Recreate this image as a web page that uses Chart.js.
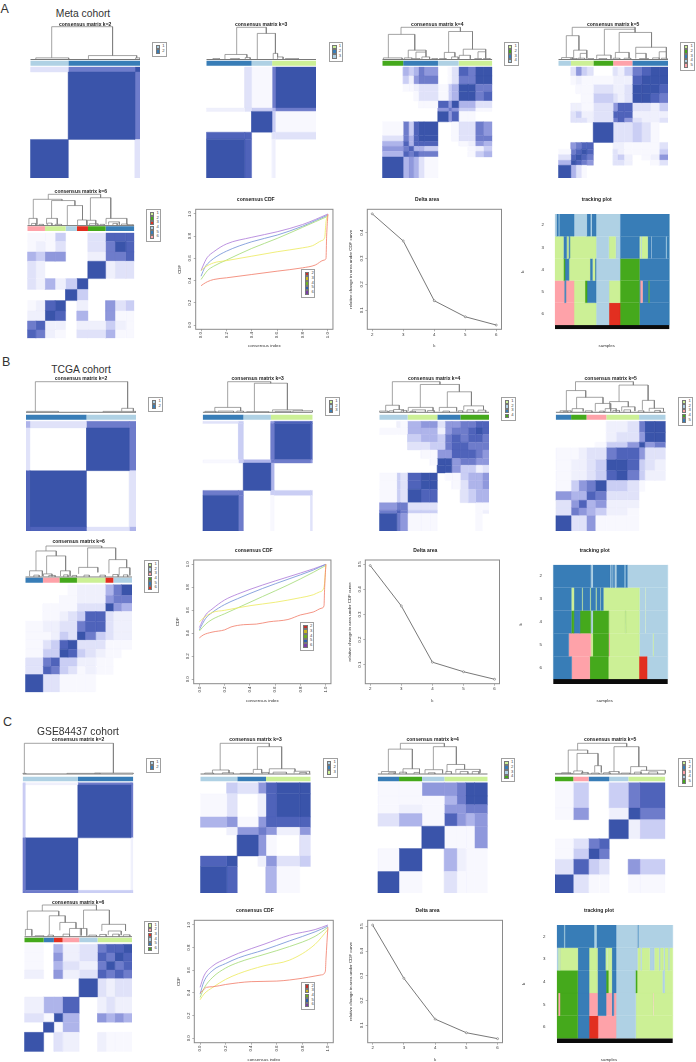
<!DOCTYPE html>
<html><head><meta charset="utf-8">
<style>
html,body{margin:0;padding:0;background:#fff;width:696px;height:1062px;overflow:hidden;font-family:"Liberation Sans",Arial,sans-serif}
canvas{position:absolute;filter:blur(.3px)}
.t{position:absolute;color:#333;white-space:nowrap;line-height:1}
.lg{position:absolute;box-sizing:border-box;border:1px solid #a0a0a0;background:#fff}
.lg i{position:absolute;width:2.4px;height:2.4px;box-sizing:content-box;border:.4px solid #777}
.lg b{position:absolute;font:normal 4.2px/1 "Liberation Sans",Arial,sans-serif;color:#444}
</style></head><body>
<script src="https://cdn.jsdelivr.net/npm/chart.js@4"></script>
<script>
// ---------- consensus matrices: block edges (% of samples), triangular block values (0-9), cluster bars, dendrogram merges
const edgesA2=[0,34.7,95.5,100];            const gridA2=["9","09","379"];
const edgesA3=[0,35,41.3,60,63,100];        const gridA3=["9","88","009","2345","03179"];
const edgesA4=[0,19,24,28.5,33,38,50.6,60,63,69.4,78,84.5,92,100];
const gridA4=["9","58","678","5858","37589","174899","0000009","00000067","000011869","0001331459","01123314599","042677013779","0545760138799"];
const edgesA5=[0,11.5,16,21,26,32,50,54,60,67.5,76,84,92,100];
const gridA5=["9","59","389","1789","06788","000009","0333237","03422388","022113688","0001143239","00111322399","012111222899","0364303247899"];
const edgesA6=[0,8,16.5,26,35.8,46.4,56.7,73.2,82,92,100];
const gridA6=["8","78","229","1289","00009","325249","3200009","54660027","121300379","1114003888"];
const edgesB2=[0,3.6,55,94,100];            const gridB2=["8","89","309","5377"];
const edgesB3=[0,32.5,37,62,65,98,100];     const gridB3=["9","77","009","1457","04079","340688"];
const edgesB4=[0,16,19,25.8,38,46,52.9,60,66,73.9,81,88,94,100];
const gridB4=["9","78","677","1439","14389","143899","0000009","00000199","000011668","0003344788","00045547878","111555267789","0215663667788"];
const edgesB5=[0,14,21,28,36,46,55,65,75.8,81,90,100];
const gridB5=["9","37","368","6558","146 79".replace(' ',''),"122348","1223499","11233788","000014469","0000023369","00000223799"];
const edgesB6=[0,16.5,24,32,40,48.4,56,66,75,82.5,90,100];
const gridB6=["9","38","378","1449","13489","112439","1223378","01123488","011113339","0001122267","00001222579"];
const edgesC2=[0,2.4,50,98,100];            const gridC2=["7","79","409","4277"];
const edgesC3=[0,24,33.5,52.5,59.5,69,90,100]; const gridC3=["9","89","009","0267","56168","130289","0436899"];
const edgesC4=[0,19.4,40.3,60.6,72,80,88,100]; const gridC4=["9","19","009","3518","12166","111579","1166799"];
const edgesC5=[0,16.6,30.5,40,49.2,66.5,77,100]; const gridC5=["9","38","149","1378","00009","160029","1400478"];
const edgesC6=[0,18,27.5,35.6,51,68,76,84,92,100];
const gridC6=["9","09","319","2558","00009","206238","1053279","10623879","105237889"];

const barA2=[['l',34.7],['b',100]];
const barA3=[['b',41.3],['l',60],['g',100]];
const barA4=[['G',19],['b',50.6],['l',69.4],['g',100]];
const barA5=[['l',11.5],['g',32],['G',50],['p',67.5],['b',100]];
const barA6=[['p',16.5],['g',35.8],['l',46.4],['R',56.7],['G',73.2],['b',100]];
const barB2=[['b',55],['l',100]];
const barB3=[['b',37],['l',62],['g',100]];
const barB4=[['l',25.8],['g',52.9],['b',73.9],['G',100]];
const barB5=[['b',14],['G',28],['p',46],['g',75.8],['l',100]];
const barB6=[['b',16.5],['p',32],['G',48.4],['g',75],['R',82.5],['l',100]];
const barC2=[['l',50],['b',100]];
const barC3=[['l',33.5],['b',59.5],['g',100]];
const barC4=[['b',19.4],['G',40.3],['l',60.6],['g',100]];
const barC5=[['G',16.6],['p',30.5],['b',49.2],['l',66.5],['g',100]];
const barC6=[['G',18],['b',27.5],['R',35.6],['p',51],['l',68],['g',100]];

const dendA2=[[19.5,75,100,5,12],[5,35,5,1,1],[53,97,12,2,5],[96,100,5,1,1]];
const dendA3=[[27.7,54.7,100,15.6,81],[17,37,15.6,1,6],[35.5,40,6,1,1],[46.5,63,81,1,19],[61,65,19,1,8],[65,70,8,1,1],[6,12,3,0,0],[22,30,3,0,0],[72,84,3,0,0]];
const dendA4=[[17,71,100,78,87],[5.5,29.5,78,5,29],[1,18,5,1,1],[23.6,39.7,29,5,23],[30.6,39.7,23,3,8],[60.3,82,87,22,32],[56.4,66,22,1,8],[73.6,94,32,13,24],[87,94,24,3,3],[70,80,13,2,2],
 [20,27,5,0,0],[28,34,3,0,0],[36,43,8,0,0],[45,50,3,0,0],[52,58,3,0,0],[63,69,8,0,0],[84,90,3,0,0],[92,98,3,0,0]];
const dendA5=[[12.7,70,100,74,94],[7.3,18.8,74,6,29],[3,13,6,1,1],[14,26,29,3,19],[20,26,19,3,3],[42,70,94,13.5,84],[35,48,13.5,2,2],[55.5,85,84,22,38],[52,64.5,22,4,4],[70.6,98.5,38,19,24],[70.6,80,19,3,3],[92,98.5,24,4,4],
 [11,17,3,0,0],[18,24,4,0,0],[27,32,3,0,0],[37,44,3,0,0],[50,56,4,0,0],[60,66,4,0,0],[74,82,3,0,0],[86,92,5,0,0],[94,99,4,0,0]];
const dendA6=[[19.6,68.5,100,84,89],[5.6,32.4,84,23,80],[1.5,9,23,3,3],[22.7,44.5,80,23,64],[18,28,23,4,4],[37.4,51.6,64,1,18],[47,55.5,18,1,2],[59,78,89,17,23],[56,64,17,1,2],[73.6,93,23,4,4],[76,86,12,3,3],
 [4,8,7,0,0],[11,15,4,0,0],[19,23,8,0,0],[26,32,4,0,0],[58,66,6,0,0],[68,72,4,0,0],[80,84,7,0,0],[88,94,5,0,0],[95,99,3,0,0]];
const dendB2=[[8.5,92.4,100,3,13],[0.6,29.4,3,1,1],[87,97.6,13,3,3],[70,100,3,1,1]];
const dendB3=[[22.7,61.8,100,16,95],[11,34.5,16,3,4],[47,77,95,2,8],[63.5,90.6,8,2,5],[82,100,5,1,1],[31,37,4,1,1],[2,12,3,0,0],[14,28,4,0,0],[40,60,2,0,0],[66,80,3,0,0]];
const dendB4=[[11.9,55.3,100,23,91],[5.8,18.2,23,4,9],[37.4,73,91,16,67],[26.4,49,16,4,5],[62,84,67,16,21],[54.7,70.5,16,3,3],[77,95,21,7,8],[13,22,9,2,2],[0,8,4,1,1],[30,42,8,2,2],
 [9,13,5,0,0],[20,25,6,0,0],[28,33,3,0,0],[44,50,6,0,0],[58,64,4,0,0],[72,76,5,0,0],[80,86,8,0,0],[90,97,7,0,0]];
const dendB5=[[18,70.6,100,71,89],[9.7,27.3,71,5,49],[4,14,5,1,1],[19,43,49,12,29],[15,25,12,2,3],[36,50,29,3,3],[57.6,84,89,35,39],[49,66,35,12,18],[45,55,12,2,2],[60,72,18,4,4],[78.8,89.7,39,8,13],[85,98,13,3,3],
 [7,11,3,0,0],[27,33,5,0,0],[40,44,4,0,0],[52,58,6,0,0],[62,68,8,0,0],[75,80,5,0,0],[90,95,6,0,0]];
const dendB6=[[19.4,71.6,100,84,94],[10,29,84,20,68],[4,16,20,3,3],[20,37.8,68,10,20],[58.4,84.7,94,31,56],[50,68,31,10,15],[78.4,95,56,12,30],[88,98,30,5,5],[17,25,10,2,2],[33,42,20,3,3],
 [8,13,6,0,0],[22,28,5,0,0],[36,40,7,0,0],[44,48,5,0,0],[55,60,6,0,0],[70,75,6,0,0],[82,87,8,0,0],[92,96,7,0,0]];
const dendC2=[[1.5,82,100,2,3],[0,3,2,1,1],[65,100,3,1,1],[40,70,2,0,0]];
const dendC3=[[18,62.5,100,13,89],[11,26,13,2,3],[51.7,73.7,89,15,17],[48,55.6,15,3,3],[62.5,85.8,17,3,9],[85,99,9,2,2],[4,12,3,0,0],[20,30,4,0,0],[36,47,2,0,0],[56,62,5,0,0],[66,78,6,0,0],[90,96,5,0,0]];
const dendC4=[[20.6,60.6,100,81,89],[9.7,31.5,81,8,17],[3.5,16,8,1,1],[23,38,17,3,3],[50.6,71.5,89,14,31],[43,59,14,2,2],[63,79,31,6,15],[71,93,15,4,4],[10,15,4,0,0],[20,26,6,0,0],[33,38,5,0,0],[46,52,4,0,0],[62,67,8,0,0],[75,82,8,0,0],[86,92,8,0,0]];
const dendC5=[[20.5,65,100,78,89],[12,29.6,78,1,67],[0,16,2,1,1],[20,39,67,10,27],[17,25,10,2,2],[36,42,27,5,5],[53.5,76,89,8,24],[49,58,8,2,2],[68.6,83,24,3,12],[78,100,12,2,2],[6,14,4,0,0],[24,30,5,0,0],[33,40,3,0,0],[44,50,4,0,0],[60,68,3,0,0],[72,78,6,0,0],[85,93,7,0,0]];
const dendC6=[[16.7,67,100,81,84],[2.8,32,81,23,66],[1,7,23,3,3],[23.2,38,66,6,45],[33,48,45,20,26],[42,53,26,4,4],[55,79,84,26,39],[52,58,26,3,3],[72,94,39,18,18],[78,90,18,5,5],[10,18,3,0,0],[22,27,5,0,0],[36,42,8,0,0],[60,67,5,0,0],[70,76,7,0,0],[82,88,8,0,0],[92,98,6,0,0]];

// ---------- CDF curves: consensus index and CDF per k
const cdfXA2=[0,.02,.05,.1,.2,.4,.6,.8,.9,.97,.985,.99,1];
const cdfA2=[.354,.37,.39,.41,.425,.455,.485,.515,.54,.585,.6,.8,1];
const cdfXA3=[0,.03,.1,.2,.4,.6,.8,.88,.95,.975,.985,1];
const cdfA3=[.49,.52,.56,.58,.62,.66,.695,.715,.76,.79,.93,.99];
const cdfXA=[0,.03,.05,.1,.2,.4,.6,.8,.9,1];
const cdfA4=[.41,.46,.49,.53,.585,.69,.78,.88,.93,.98];
const cdfA5=[.44,.52,.55,.6,.665,.75,.81,.89,.94,.99];
const cdfA6=[.49,.57,.61,.66,.73,.79,.84,.905,.95,1];

const cdfXB2=[0,.03,.1,.2,.25,.35,.45,.55,.7,.8,.9,.97,.985,.99,1];
const cdfB2=[.36,.385,.41,.43,.455,.475,.48,.5,.52,.56,.585,.62,.64,.8,1];
const cdfXB3=[0,.03,.1,.2,.4,.6,.8,.9,.95,.985,1];
const cdfB3=[.5,.53,.58,.6,.64,.67,.71,.735,.76,.8,1];
const cdfXB=[0,.05,.1,.2,.3,.5,.7,.9,1];
const cdfB4=[.42,.48,.52,.57,.62,.72,.82,.93,.99];
const cdfB5=[.43,.53,.58,.65,.7,.79,.87,.95,1];
const cdfB6=[.45,.56,.61,.69,.74,.82,.89,.96,1];

const cdfXC2=[0,.02,.05,.1,.2,.4,.6,.8,.9,.95,.98,.985,1];
const cdfC2=[.4,.42,.45,.455,.475,.5,.505,.53,.55,.56,.59,.7,.98];
const cdfXC=[0,.03,.1,.2,.3,.5,.7,.9,1];
const cdfC3=[.34,.39,.45,.52,.57,.64,.69,.83,.96];
const cdfC4=[.36,.44,.54,.62,.67,.74,.81,.9,.98];
const cdfC5=[.39,.5,.6,.66,.71,.78,.86,.94,.99];
const cdfC6=[.45,.55,.64,.7,.75,.83,.91,.96,1];

// ---------- delta area
const deltaK=[2,3,4,5,6];
const deltaA=[.473,.368,.137,.075,.043];
const deltaB=[.495,.334,.11,.072,.042];
const deltaC=[.505,.29,.125,.07,.046];

// ---------- tracking plot runs: [cluster colour, end % of samples], one list per k
const trackA2=[['l',1.2],['b',3],['l',3.6],['b',16.6],['l',27.7],['b',31],['l',32],['b',35.9],['l',56.9],['b',100]];
const trackA3=[['g',7.3],['b',10.2],['g',11.7],['b',13],['g',35.9],['l',47],['g',53],['l',56.9],['b',73.8],['g',75],['l',75.6],['g',81],['b',84],['l',84.5],['b',97],['l',97.6],['b',100]];
const trackA4=[['g',7.3],['G',8.7],['b',12.2],['g',30.6],['b',32.7],['g',35],['b',35.9],['l',56.9],['G',73.8],['b',100]];
const trackA5=[['p',8],['b',9.5],['p',16.6],['g',26.2],['G',28],['b',35.9],['l',47.2],['g',56.9],['G',73.8],['b',74.5],['p',76.5],['b',81.5],['G',82.5],['b',100]];
const trackA6=[['p',16.6],['g',35.9],['l',47.2],['R',56.9],['G',73.8],['b',100]];
const trackB2=[['b',32.7],['l',34.4],['b',49.6],['l',50.5],['b',51.5],['l',52.2],['b',53.5],['l',55],['b',62],['l',62.8],['b',64.7],['l',100]];
const trackB3=[['b',15.7],['g',18],['b',25],['g',25.6],['b',32],['g',32.6],['b',37],['g',37.6],['b',41],['g',41.6],['b',43.7],['g',75.2],['l',80.2],['g',80.8],['l',100]];
const trackB4=[['b',15.7],['G',18],['b',23.3],['G',32.7],['l',34.4],['G',48.4],['g',63],['G',63.5],['g',75.2],['l',80.2],['g',80.8],['l',100]];
const trackB5=[['b',13.4],['p',32.7],['g',34.4],['G',48.4],['p',49],['g',75.2],['l',87],['g',87.6],['l',100]];
const trackB6=[['b',16],['p',31.8],['G',48.1],['g',74.9],['R',81.9],['l',100]];
const trackC2=[['b',6],['l',6.8],['b',32],['l',34],['b',51],['l',69.5],['b',70.2],['l',100]];
const trackC3=[['l',1],['g',2],['l',2.6],['g',17.9],['b',27.7],['g',34.9],['b',41.8],['g',43.5],['l',44],['g',47.3],['b',51],['l',69.5],['g',72],['l',73],['g',80],['l',84],['g',88],['l',89],['g',92],['l',93],['g',96],['l',97],['g',100]];
const trackC4=[['G',17.9],['b',27.7],['g',34.9],['b',42.4],['G',44.4],['g',47.3],['b',51],['l',67.7],['G',69.2],['g',91],['l',93],['g',100]];
const trackC5=[['G',1],['p',2.5],['G',17.9],['b',27.7],['p',34.9],['b',42.4],['p',47.3],['b',49],['p',51],['l',68],['g',83],['p',83.6],['g',100]];
const trackC6=[['G',17.9],['b',27.7],['R',35.4],['p',51],['l',68],['g',100]];

// ---------- styles
const colors={l:'#AFD1E4',b:'#387DB7',g:'#CCF096',G:'#45A91C',p:'#FEA2A9',R:'#E22F20'};
const shades=[null,'#F8F8FE','#EFF0FC','#E0E2F9','#CACEF4','#AEB4EA','#8F98DC','#6E7CCB','#4F63BA','#3A54AA'];
const cdfColors=['#F2826F','#EDEB64','#A7DC7B','#7795D8','#B07FDA'];
const cdfKeys=['#C5312A','#C9B520','#6FAF20','#2C5FB0','#7A3FA8'];
const FONT='"Liberation Sans",Arial,sans-serif';

function rect(x0,x1,y0,y1,c,bw){return {showLine:true,data:[{x:x0,y:y0},{x:x1,y:y0},{x:x1,y:y1},{x:x0,y:y1},{x:x0,y:y0}],fill:'shape',backgroundColor:c,borderColor:c,borderWidth:bw||0,pointRadius:0,tension:0};}
function mount(box){
  const L=Math.floor(box.l),T=Math.floor(box.t),R=Math.ceil(box.r),B=Math.ceil(box.b);
  const c=document.createElement('canvas');c.style.left=L+'px';c.style.top=T+'px';c.width=R-L;c.height=B-T;c.style.width=(R-L)+'px';c.style.height=(B-T)+'px';
  document.body.appendChild(c);
  return {ctx:c.getContext('2d'),padding:{left:box.l-L,top:box.t-T,right:R-box.r,bottom:B-box.b}};
}
const base={responsive:false,animation:false,events:[]};
function titleOpt(text,pad){return {display:true,text,color:'#222',font:{family:FONT,size:5,weight:'bold',lineHeight:1},padding:{top:0,bottom:pad}};}

function legendBox(x,y,keys,labels,w){
  const d=document.createElement('div');d.className='lg';d.style.left=x+'px';d.style.top=y+'px';d.style.width=(w||14.5)+'px';d.style.height=(keys.length*4.67+5.3)+'px';
  keys.forEach((k,i)=>{
    const s=document.createElement('i');s.style.left='2.8px';s.style.top=(1.5+i*4.67)+'px';s.style.background=k;d.appendChild(s);
    const t=document.createElement('b');t.style.left='9.3px';t.style.top=(1.1+i*4.67)+'px';t.textContent=labels[i];d.appendChild(t);
  });
  document.body.appendChild(d);
}
function label(text,x,y,size,anchor){
  const d=document.createElement('div');d.className='t';d.textContent=text;d.style.left=x+'px';d.style.top=(y-size/2)+'px';d.style.fontSize=size+'px';
  if(anchor==='c')d.style.transform='translateX(-50%)';
  document.body.appendChild(d);
}

function heat(p){
  const [mx0,mx1]=p.mx,[my0,my1]=p.my,fs=5;
  const chartTop=Math.max(p.tc+fs/2,p.dy[0]-.5);
  const ppu=(my1-my0)/100, val=py=>100+(my0-py)/ppu;
  const ds=[];
  const e=p.edges;
  p.grid.forEach((row,i)=>{for(let j=0;j<=i;j++){
    const c=shades[+row[j]];if(!c)continue;
    ds.push(rect(e[j],e[j+1],e[i],e[i+1],c,.4));
    if(i!==j)ds.push(rect(e[i],e[i+1],e[j],e[j+1],c,.4));
  }});
  let s=0;p.bar.forEach(([k,end])=>{ds.push(rect(s,end,val(p.by[1]),val(p.by[0]),colors[k]));s=end;});
  const yb=val(p.dy[1]),yt=val(p.dy[0]),H=h=>yb+h/100*(yt-yb);
  const pts=[];
  p.dend.forEach(([a,b,h,hl,hr])=>{pts.push({x:a,y:H(hl)},{x:a,y:H(h)},{x:b,y:H(h)},{x:b,y:H(hr)},{x:null,y:null});});
  ds.push({showLine:true,data:pts,borderColor:'#7d7d7d',borderWidth:.7,pointRadius:0,spanGaps:false,clip:false});
  ds.push({showLine:true,data:[{x:0,y:H(0)},{x:100,y:H(0)}],borderColor:'#555',borderWidth:.8,pointRadius:0});
  const m=mount({l:mx0,r:mx1,t:p.tc-fs/2,b:my1});
  new Chart(m.ctx,{type:'scatter',data:{datasets:ds},options:{...base,layout:{padding:m.padding},
    plugins:{legend:{display:false},tooltip:{enabled:false},title:{...titleOpt(p.title,chartTop-(p.tc+fs/2))}},
    scales:{x:{type:'linear',display:false,min:0,max:100},y:{type:'linear',display:false,min:0,max:val(chartTop)}}}});
  legendBox(p.lg[0],p.lg[1],p.legend.map(k=>colors[k]),p.legend.map((_,i)=>String(i+1)));
}

function span(v0,p0,v1,p1,a,b){const k=(v1-v0)/(p1-p0);return [v0+(a-p0)*k,v0+(b-p0)*k];}
const boxPlugin={id:'box',afterDraw(ch){const a=ch.chartArea,c=ch.ctx;c.save();c.strokeStyle='#8a8a8a';c.lineWidth=1;c.strokeRect(a.left,a.top,a.right-a.left,a.bottom-a.top);c.restore();}};

function plotOpts(p,xT,yT,xTicks,yTicks,xrot,fmtX){
  const [xmin,xmax]=span(p.xv[0],p.xp[0],p.xv[1],p.xp[1],p.box[0],p.box[1]);
  const [ymin,ymax]=span(p.yv[0],p.yp[0],p.yv[1],p.yp[1],p.box[3],p.box[2]);
  const left=p.ylab-2.2, bottom=p.xlab+2.7, right=p.box[1]+2, top=p.tc-2.5;
  const m=mount({l:left,r:right,t:top,b:bottom});
  const tf={family:FONT,size:4.4},tc='#333';
  return {ctx:m.ctx,options:{...base,layout:{padding:m.padding},
    plugins:{legend:{display:false},tooltip:{enabled:false},title:titleOpt(p.title,p.box[2]-(p.tc+2.5))},
    scales:{
      x:{type:'linear',min:xmin,max:xmax,position:'bottom',
        grid:{display:true,drawOnChartArea:false,drawTicks:true,tickLength:2,color:'#666',lineWidth:.5},border:{display:false},
        ticks:{color:tc,font:tf,padding:.8,autoSkip:false,minRotation:xrot,maxRotation:xrot,callback:fmtX},
        afterBuildTicks:s=>{s.ticks=xTicks.map(v=>({value:v}));},
        afterFit:s=>{s.height=bottom-p.box[3];},
        title:{display:true,text:xT,color:tc,font:{...tf,lineHeight:1},padding:0}},
      y:{type:'linear',min:ymin,max:ymax,position:'left',
        grid:{display:true,drawOnChartArea:false,drawTicks:true,tickLength:2,color:'#666',lineWidth:.5},border:{display:false},
        ticks:{color:tc,font:tf,padding:.8,autoSkip:false,minRotation:90,maxRotation:90,crossAlign:'center',callback:v=>v.toFixed(1)},
        afterBuildTicks:s=>{s.ticks=yTicks.map(v=>({value:v}));},
        afterFit:s=>{s.width=p.box[0]-left;},
        title:{display:true,text:yT,color:tc,font:{...tf,lineHeight:1},padding:0}}
    }}};
}

function cdf(p){
  const o=plotOpts(p,'consensus index','CDF',[0,.2,.4,.6,.8,1],[0,.2,.4,.6,.8,1],90,v=>v.toFixed(1));
  const ds=p.curves.map(([xs,ys],i)=>({showLine:true,data:xs.map((x,j)=>({x,y:ys[j]})),borderColor:cdfColors[i],borderWidth:.85,pointRadius:0,cubicInterpolationMode:'monotone'}));
  new Chart(o.ctx,{type:'scatter',data:{datasets:ds},options:o.options,plugins:[boxPlugin]});
  legendBox(p.lg[0],p.lg[1],cdfKeys,['2','3','4','5','6'],14);
}
function delta(p){
  const o=plotOpts(p,'k','relative change in area under CDF curve',deltaK,p.yticks,0,v=>String(v));
  o.options.scales.x.ticks.minRotation=0;o.options.scales.x.ticks.maxRotation=0;
  new Chart(o.ctx,{type:'scatter',data:{datasets:[{showLine:true,data:deltaK.map((k,i)=>({x:k,y:p.vals[i]})),borderColor:'#555',borderWidth:.8,pointRadius:1,pointBorderColor:'#555',pointBackgroundColor:'#fff',pointBorderWidth:.5}]},options:o.options,plugins:[boxPlugin]});
}
function track(p){
  const [x0,x1]=p.px,[y0,y1]=p.py,tick=p.labX-2,right=2*p.cx-tick;
  const left=p.kX-2.2,bottom=p.xlab+2.7;
  const [xmin,xmax]=span(0,x0,100,x1,tick,right);
  const rowH=(p.black-y0)/5;
  const ymax=1.5+(y1-y0)/rowH;
  const ds=[];
  p.rows.forEach((row,i)=>{let s=0;row.forEach(([k,e])=>{ds.push(rect(s,e,i+1.5,i+2.5,colors[k],.2));s=e;});});
  ds.push(rect(0,100,6.5,ymax,'#0b0b0b'));
  const m=mount({l:left,r:right,t:p.tc-2.5,b:bottom});
  const tf={family:FONT,size:4.4},tc='#333';
  new Chart(m.ctx,{type:'scatter',data:{datasets:ds},options:{...base,layout:{padding:m.padding},
    plugins:{legend:{display:false},tooltip:{enabled:false},title:titleOpt('tracking plot',y0-(p.tc+2.5))},
    scales:{
      x:{type:'linear',min:xmin,max:xmax,grid:{display:false},border:{display:false},ticks:{display:false},
        afterFit:s=>{s.height=bottom-y1;},title:{display:true,text:'samples',color:tc,font:{...tf,lineHeight:1},padding:0}},
      y:{type:'linear',reverse:true,min:1.5,max:ymax,grid:{display:false},border:{display:false},
        ticks:{color:tc,font:tf,mirror:true,padding:1,autoSkip:false,callback:v=>String(v)},
        afterBuildTicks:s=>{s.ticks=[2,3,4,5,6].map(v=>({value:v}));},
        afterFit:s=>{s.width=tick-left;},
        title:{display:true,text:'k',color:tc,font:{...tf,lineHeight:1},padding:0}}
    }}});
}

// ---------- page layout
[
 {title:'consensus matrix k=2',edges:edgesA2,grid:gridA2,bar:barA2,dend:dendA2,legend:['l','b'],mx:[30.3,140],my:[67,178],by:[60.7,65.7],dy:[26.7,59.5],tc:24.3,lg:[152,42.3]},
 {title:'consensus matrix k=3',edges:edgesA3,grid:gridA3,bar:barA3,dend:dendA3,legend:['g','b','l'],mx:[206.3,316],my:[67,178],by:[60.7,65.7],dy:[27.3,59.5],tc:24.3,lg:[328.5,42.3]},
 {title:'consensus matrix k=4',edges:edgesA4,grid:gridA4,bar:barA4,dend:dendA4,legend:['g','G','b','l'],mx:[382.3,492.3],my:[67,178],by:[60.7,65.7],dy:[27.3,59.5],tc:24.3,lg:[504.3,42.3]},
 {title:'consensus matrix k=5',edges:edgesA5,grid:gridA5,bar:barA5,dend:dendA5,legend:['g','G','b','l','p'],mx:[558.3,668],my:[67,178],by:[60.7,65.7],dy:[27.3,59.5],tc:24.3,lg:[680.3,42.3]},
 {title:'consensus matrix k=6',edges:edgesA6,grid:gridA6,bar:barA6,dend:dendA6,legend:['g','G','R','l','b','p'],mx:[27.3,134.3],my:[233,338.3],by:[226.3,231],dy:[194.3,225.6],tc:192,lg:[146.3,209]},
 {title:'consensus matrix k=2',edges:edgesB2,grid:gridB2,bar:barB2,dend:dendB2,legend:['l','b'],mx:[26,136],my:[421.3,531],by:[414.7,419.7],dy:[381.7,412.3],tc:379,lg:[148.3,397]},
 {title:'consensus matrix k=3',edges:edgesB3,grid:gridB3,bar:barB3,dend:dendB3,legend:['g','l','b'],mx:[202.7,312.7],my:[421.3,531],by:[414.7,419.7],dy:[381.7,412.3],tc:379,lg:[325,397]},
 {title:'consensus matrix k=4',edges:edgesB4,grid:gridB4,bar:barB4,dend:dendB4,legend:['g','l','b','G'],mx:[379.3,489],my:[421.3,531],by:[414.7,419.7],dy:[381.7,412.3],tc:379,lg:[501,397]},
 {title:'consensus matrix k=5',edges:edgesB5,grid:gridB5,bar:barB5,dend:dendB5,legend:['g','l','p','G','b'],mx:[555.7,665.7],my:[421.3,531],by:[414.7,419.7],dy:[381.7,412.3],tc:379,lg:[678.3,397]},
 {title:'consensus matrix k=6',edges:edgesB6,grid:gridB6,bar:barB6,dend:dendB6,legend:['g','l','p','G','b','R'],mx:[25.3,132],my:[584.7,692.3],by:[577.7,582.7],dy:[546,577],tc:542,lg:[144.3,560]},
 {title:'consensus matrix k=2',edges:edgesC2,grid:gridC2,bar:barC2,dend:dendC2,legend:['l','b'],mx:[22.7,133.3],my:[782.7,893],by:[776.7,781.3],dy:[743.3,774],tc:740,lg:[146,758.3]},
 {title:'consensus matrix k=3',edges:edgesC3,grid:gridC3,bar:barC3,dend:dendC3,legend:['l','b','g'],mx:[200.3,310.7],my:[782.7,893],by:[776.7,781.3],dy:[743.3,774],tc:740,lg:[323.3,758.3]},
 {title:'consensus matrix k=4',edges:edgesC4,grid:gridC4,bar:barC4,dend:dendC4,legend:['g','b','l','G'],mx:[377.7,487.7],my:[782.7,893],by:[776.7,781.3],dy:[743.3,774],tc:740,lg:[500.7,758.3]},
 {title:'consensus matrix k=5',edges:edgesC5,grid:gridC5,bar:barC5,dend:dendC5,legend:['g','b','p','l','G'],mx:[555,665.3],my:[782.7,893],by:[776.7,781.3],dy:[743.3,774],tc:740,lg:[678.3,758.3]},
 {title:'consensus matrix k=6',edges:edgesC6,grid:gridC6,bar:barC6,dend:dendC6,legend:['g','p','R','l','b','G'],mx:[24.3,132],my:[944.3,1051.7],by:[937.7,942.3],dy:[905,936.7],tc:902.3,lg:[144.3,920.7]}
].forEach(heat);

cdf({title:'consensus CDF',box:[195.7,331.7,209.3,329.3],xv:[0,1],xp:[201,326.7],yv:[0,1],yp:[325,214],tc:200,xlab:345.7,ylab:180,lg:[301.3,269.3],
  curves:[[cdfXA2,cdfA2],[cdfXA3,cdfA3],[cdfXA,cdfA4],[cdfXA,cdfA5],[cdfXA,cdfA6]]});
cdf({title:'consensus CDF',box:[193.7,329.7,560,683.7],xv:[0,1],xp:[199.3,324.7],yv:[0,1],yp:[679.3,564.3],tc:550.3,xlab:700.7,ylab:178,lg:[299.7,622.3],
  curves:[[cdfXB2,cdfB2],[cdfXB3,cdfB3],[cdfXB,cdfB4],[cdfXB,cdfB5],[cdfXB,cdfB6]]});
cdf({title:'consensus CDF',box:[194.3,331.3,920.3,1042.7],xv:[0,1],xp:[200,326],yv:[0,1],yp:[1038.3,925],tc:910.7,xlab:1059,ylab:178.5,lg:[301.3,981.7],
  curves:[[cdfXC2,cdfC2],[cdfXC,cdfC3],[cdfXC,cdfC4],[cdfXC,cdfC5],[cdfXC,cdfC6]]});

delta({title:'Delta area',box:[367.3,503.3,209.3,329.3],xv:[2,6],xp:[372.3,498],yv:[.1,.4],yp:[310.3,232.7],tc:200,xlab:345.7,ylab:351,vals:deltaA,yticks:[.1,.2,.3,.4]});
delta({title:'Delta area',box:[365.3,501.3,560,683.7],xv:[2,6],xp:[370.3,496.3],yv:[.1,.5],yp:[664.7,564.3],tc:550.3,xlab:700.7,ylab:349.5,vals:deltaB,yticks:[.1,.2,.3,.4,.5]});
delta({title:'Delta area',box:[367.7,504.3,920.3,1042.7],xv:[2,6],xp:[372.7,499.3],yv:[.1,.5],yp:[1025.3,926.3],tc:910.7,xlab:1059,ylab:351,vals:deltaC,yticks:[.1,.2,.3,.4,.5]});

track({px:[555,669.3],py:[214,329.3],black:325,cx:606.7,labX:542.5,kX:522.7,tc:200,xlab:345.7,rows:[trackA2,trackA3,trackA4,trackA5,trackA6]});
track({px:[553.3,667.7],py:[564.7,684],black:679,cx:604.7,labX:540.5,kX:520.7,tc:550.3,xlab:700.7,rows:[trackB2,trackB3,trackB4,trackB5,trackB6]});
track({px:[557,672.7],py:[925,1043],black:1038.3,cx:609,labX:544,kX:524,tc:910.7,xlab:1059,rows:[trackC2,trackC3,trackC4,trackC5,trackC6]});

label('A',0.5,9,12.5);label('B',2,362,12.5);label('C',3,722,12.5);
label('Meta cohort',83,14.3,10.3,'c');label('TCGA cohort',81,369.7,10.3,'c');label('GSE84437 cohort',78,732,10.3,'c');
</script>
</body></html>
